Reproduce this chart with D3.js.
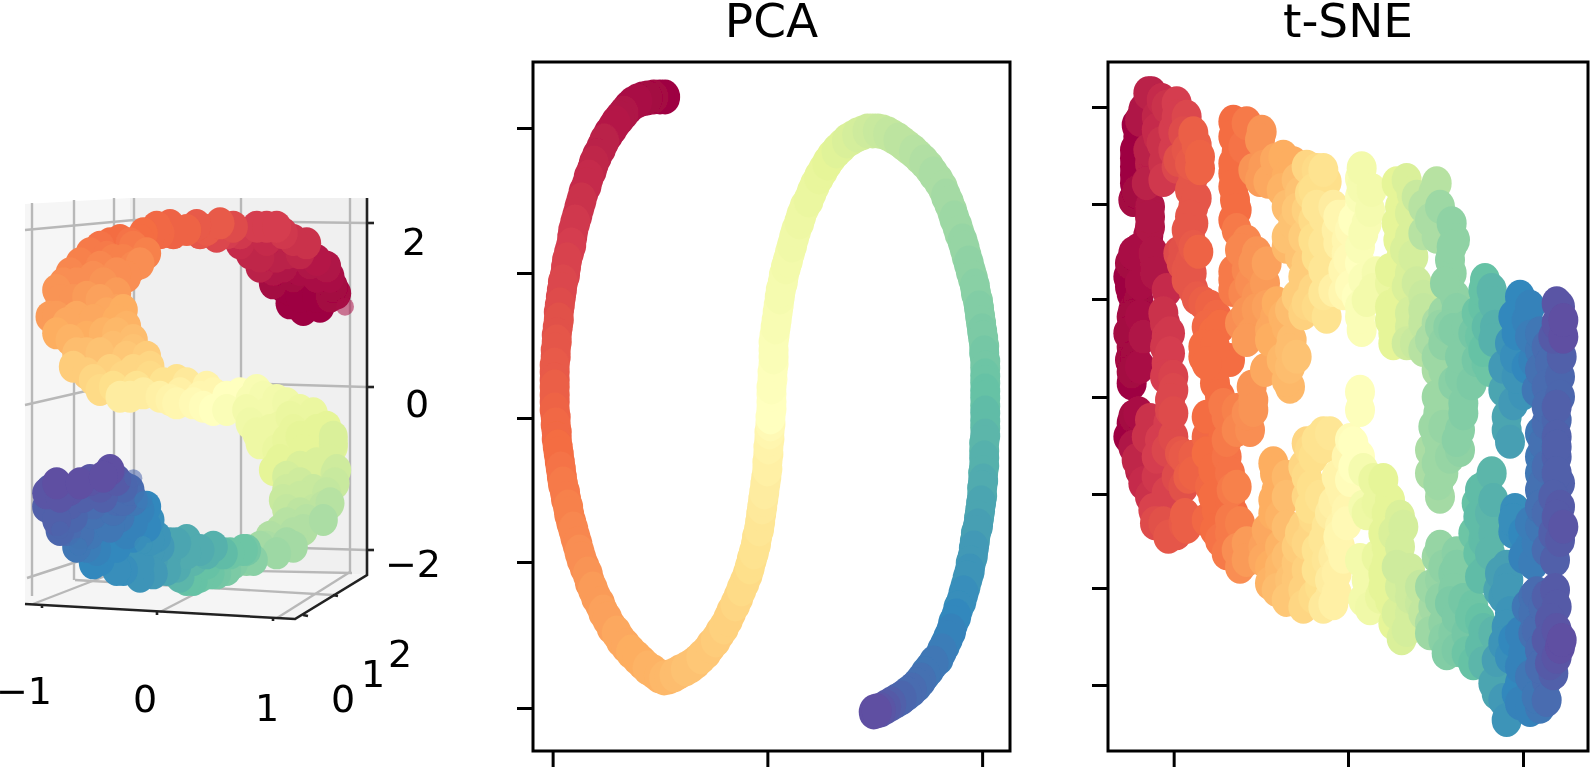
<!DOCTYPE html>
<html>
<head>
<meta charset="utf-8">
<style>
  body { margin: 0; background: #fff; }
  svg { display: block; }
  text { font-family: 'DejaVu Sans', sans-serif; fill: #000; }
</style>
</head>
<body>
<div class="svg-container"></div>
<script src="https://cdn.jsdelivr.net/npm/d3@7"></script>
<script>
/* [x, y, colour position], axes carry no labels so units are free */
var pcaPoints = [
  [-9.9,32.1,0],[-11,32.1,.01],[-12.1,31.9,.01],[-13.1,31.4,.02],[-13.9,30.5,.03],[-14.7,29.5,.04],[-15.4,28.4,.04],[-16.1,27,.05],
  [-16.8,25.5,.06],[-17.3,24.1,.07],[-17.8,22.6,.07],[-18.2,21.1,.08],[-18.6,19.6,.09],[-18.9,18.1,.09],[-19.2,16.6,.1],[-19.5,15.1,.11],
  [-19.8,13.6,.12],[-20,12.1,.12],[-20.2,10.6,.13],[-20.3,9.1,.14],[-20.4,7.6,.15],[-20.5,6.1,.15],[-20.6,4.6,.16],[-20.6,3.1,.17],
  [-20.6,1.6,.17],[-20.5,.1,.18],[-20.4,-1.4,.19],[-20.3,-2.9,.2],[-20.1,-4.4,.2],[-19.9,-5.9,.21],[-19.6,-7.4,.22],[-19.3,-8.9,.23],
  [-19,-10.4,.23],[-18.6,-11.9,.24],[-18.2,-13.4,.25],[-17.7,-14.9,.25],[-17.2,-16.4,.26],[-16.6,-17.9,.27],[-15.9,-19.4,.28],[-15.1,-20.9,.28],
  [-14.2,-22.2,.29],[-13.2,-23.4,.3],[-12.1,-24.5,.3],[-11,-25.4,.31],[-10,-26,.32],
  [-9,-25.7,.33],[-7.9,-25.1,.34],[-6.9,-24.4,.34],[-5.9,-23.4,.35],[-5,-22.2,.36],[-4.2,-20.9,.37],[-3.5,-19.4,.37],[-2.8,-17.9,.38],
  [-2.2,-16.4,.39],[-1.7,-14.9,.4],[-1.3,-13.4,.41],[-1,-11.9,.41],[-.7,-10.4,.42],[-.5,-8.9,.43],[-.3,-7.4,.44],[-.1,-5.9,.44],
  [0,-4.4,.45],[.1,-2.9,.46],[.2,-1.4,.47],[.3,.1,.5],[.4,1.6,.5],[.4,3.1,.51],[.5,4.6,.51],[.6,6.1,.52],[.6,7.6,.52],[.8,9.1,.53],
  [1,10.6,.53],[1.2,12.1,.54],[1.5,13.6,.54],[1.8,15.1,.55],[2.2,16.6,.55],[2.6,18.1,.56],[3.1,19.6,.57],[3.6,21.1,.57],[4.3,22.6,.58],
  [5,24.1,.59],[5.8,25.5,.6],[6.7,26.7,.61],[7.7,27.7,.62],[8.7,28.3,.63],[9.7,28.7,.64],[10.7,28.7,.65],[11.7,28.4,.66],[12.7,27.8,.67],
  [13.7,27,.67],[14.7,26.1,.68],[15.7,25,.69],[16.6,23.7,.7],[17.3,22.2,.71],[17.9,20.7,.71],[18.4,19.2,.72],[18.9,17.7,.73],[19.3,16.2,.73],
  [19.7,14.7,.74],[20.1,13.2,.75],[20.4,11.7,.75],[20.6,10.2,.76],[20.8,8.7,.77],[21,7.2,.77],[21.1,5.7,.78],[21.1,4.2,.79],[21.1,2.7,.8],
  [21.1,1.2,.8],[21.1,-.3,.81],[21.1,-1.8,.82],[21,-3.3,.82],[21,-4.8,.83],[20.9,-6.3,.84],[20.8,-7.8,.84],[20.6,-9.3,.85],[20.4,-10.8,.86],
  [20.1,-12.3,.86],[19.9,-13.8,.87],[19.6,-15.3,.88],[19.2,-16.8,.88],[18.8,-18.3,.89],[18.3,-19.8,.9],[17.8,-21.3,.91],[17.2,-22.7,.91],
  [16.6,-24,.92],[15.7,-25.1,.93],[14.9,-26.2,.94],[14,-27.2,.95],[13,-28,.96],[12,-28.6,.97],[11,-29.2,.99],[10.3,-29.4,1]
]
var pcaBetween = [
  [-10.4,32.1,0],[-11.6,32,.01],[-12.6,31.7,.02],[-13.5,31,.02],[-14.3,30,.03],[-15,29,.04],[-15.8,27.7,.05],[-16.5,26.2,.05],[-17,24.8,.06],
  [-17.5,23.3,.07],[-18,21.8,.08],[-18.4,20.3,.08],[-18.8,18.8,.09],[-19,17.3,.1],[-19.4,15.8,.11],[-19.6,14.3,.11],[-19.9,12.8,.12],[-20.1,11.3,.13],
  [-20.2,9.8,.14],[-20.4,8.3,.14],[-20.5,6.8,.15],[-20.6,5.3,.16],[-20.6,3.8,.16],[-20.6,2.3,.17],[-20.6,.8,.18],[-20.5,-.7,.19],[-20.4,-2.1,.19],
  [-20.2,-3.6,.2],[-20,-5.1,.21],[-19.8,-6.6,.22],[-19.5,-8.1,.22],[-19.2,-9.6,.23],[-18.8,-11.1,.24],[-18.4,-12.6,.24],[-18,-14.1,.25],[-17.4,-15.6,.26],
  [-16.9,-17.1,.27],[-16.2,-18.6,.27],[-15.5,-20.1,.28],[-14.6,-21.5,.29],[-13.7,-22.8,.29],[-12.6,-24,.3],[-11.6,-25,.31],[-10.5,-25.8,.31],[-9.5,-25.9,.32],
  [-8.5,-25.4,.33],[-7.4,-24.8,.34],[-6.4,-23.9,.35],[-5.5,-22.8,.35],[-4.6,-21.5,.36],[-3.8,-20.1,.37],[-3.1,-18.6,.38],[-2.5,-17.1,.39],[-1.9,-15.6,.39],
  [-1.5,-14.1,.4],[-1.1,-12.6,.41],[-.8,-11.1,.42],[-.6,-9.6,.42],[-.4,-8.1,.43],[-.2,-6.6,.44],[0,-5.1,.45],[.1,-3.6,.45],[.2,-2.1,.46],[.3,-.6,.48],
  [.4,.9,.5],[.4,2.4,.5],[.5,3.9,.5],[.6,5.4,.51],[.6,6.8,.52],[.7,8.3,.52],[.9,9.8,.53],[1.1,11.3,.53],[1.3,12.8,.54],[1.6,14.3,.54],[2,15.8,.55],
  [2.4,17.3,.56],[2.8,18.8,.56],[3.3,20.3,.57],[4,21.8,.58],[4.6,23.3,.58],[5.4,24.8,.59],[6.2,26.1,.6],[7.2,27.2,.61],[8.2,28,.62],[9.2,28.5,.63],
  [10.2,28.7,.64],[11.2,28.6,.65],[12.2,28.1,.66],[13.2,27.4,.67],[14.2,26.6,.68],[15.2,25.6,.69],[16.1,24.4,.7],[17,23,.7],[17.6,21.5,.71],[18.1,20,.72],
  [18.6,18.5,.72],[19.1,17,.73],[19.5,15.5,.74],[19.9,14,.74],[20.2,12.5,.75],[20.5,11,.76],[20.7,9.5,.76],[20.9,8,.77],[21,6.5,.78],[21.1,5,.78],
  [21.1,3.5,.79],[21.1,2,.8],[21.1,.5,.81],[21.1,-1,.81],[21,-2.5,.82],[21,-4,.83],[20.9,-5.5,.83],[20.8,-7,.84],[20.7,-8.5,.85],[20.5,-10,.85],
  [20.2,-11.5,.86],[20,-13,.87],[19.7,-14.5,.87],[19.4,-16,.88],[19,-17.5,.89],[18.5,-19,.89],[18,-20.5,.9],[17.5,-22,.91],[16.9,-23.3,.92],[16.1,-24.5,.93],
  [15.3,-25.6,.93],[14.5,-26.7,.94],[13.5,-27.6,.95],[12.5,-28.3,.96],[11.5,-28.9,.98],[10.6,-29.3,1]
]
var pcaTicksX = [-20.8, 0, 20.8]
var pcaTicksY = [29, 14.5, 0, -14.4, -29]

var tsnePoints = [
  [-589,911,.05],[-559,891,.07],[-614,861,.03],[-624,831,.03],[-629,781,0],[-639,741,0],[-639,691,0],[-639,641,0],[-644,591,.01],
  [-594,571,.03],[-594,511,.03],[-599,461,.02],[-604,401,.02],[-579,401,.03],[-654,401,.01],[-659,361,0],[-624,341,.02],[-649,311,0],
  [-644,261,.01],[-644,211,.01],[-649,151,.01],[-654,111,.01],[-649,41,0],[-544,321,.07],
  [-514,881,.1],[-484,841,.12],[-569,781,.07],[-464,791,.17],[-454,756,.17],[-524,741,.1],[-594,701,.05],[-444,686,.18],[-554,651,.09],
  [-474,621,.15],[-464,571,.15],[-464,521,.15],[-474,481,.15],[-449,436,.18],[-509,431,.13],[-484,381,.15],[-464,321,.15],[-394,241,.19],
  [-404,191,.2],[-434,121,.2],[-549,221,.08],[-544,181,.09],[-544,101,.1],[-524,21,.12],[-434,281,.17],
  [-344,826,.2],[-259,796,.26],[-334,736,.2],[-344,671,.2],[-264,651,.27],[-339,591,.2],[-344,531,.2],[-304,466,.24],[-274,431,.26],
  [-264,381,.26],[-344,376,.22],[-344,321,.22],[-294,341,.25],[-244,271,.28],[-289,191,.27],[-234,201,.29],[-354,111,.2],[-249,81,.29],
  [-399,41,.2],[-289,31,.26],[-384,1,.2],[-284,-9,.26],[-194,721,.3],[-184,661,.3],[-239,646,.29],
  [-154,561,.35],[-184,481,.34],[-144,421,.34],[-169,171,.33],[-174,91,.33],[-174,31,.32],[-124,401,.36],[-94,681,.39],[-64,646,.4],
  [-134,251,.37],[-64,241,.41],[-104,321,.38],[-154,301,.36],[-74,541,.42],[-74,461,.42],[-74,381,.42],[-114,611,.39],[-194,241,.31],
  [41,686,.55],[41,631,.54],[36,571,.5],[-29,541,.47],[46,491,.53],[-4,471,.47],[1,411,.48],[6,331,.49],[36,271,.52],[41,201,.52],
  [86,371,.54],[36,16,.51],[-44,321,.45],
  [176,651,.62],[176,601,.6],[256,611,.68],[226,571,.68],[171,521,.6],[246,531,.7],[171,441,.62],[266,481,.7],[136,161,.6],[126,381,.6],
  [186,371,.62],[186,251,.63],[226,301,.65],[201,161,.65],[266,81,.7],[226,221,.66],[126,271,.6],
  [311,521,.74],[321,471,.74],[306,411,.74],[311,371,.74],[321,301,.74],[316,201,.76],[276,211,.73],[266,121,.72],[356,161,.75],[336,61,.76],
  [266,1,.72],[346,-19,.76],
  [411,351,.8],[431,321,.82],[406,271,.8],[441,211,.83],[406,141,.8],[416,101,.79],
  [526,281,.9],[536,231,.91],[486,161,.88],[501,121,.89],[576,141,.93],[466,21,.85],[526,11,.88],[496,-19,.87],
  [636,271,.99],[646,181,1],[641,121,.97],[636,61,.96],[636,1,.96],[576,81,.94],
  [-644,-59,.01],[-659,-119,0],[-624,-219,.05],[-594,-199,.06],[-564,-129,.1],[-534,-39,.12],[-539,-79,.1],[-594,-299,.08],[-559,-329,.1],
  [-554,-379,.14],[-514,-409,.15],[-489,-354,.17],[-494,-179,.16],[-479,-239,.17],[-514,-239,.13],
  [-399,-49,.2],[-374,-24,.22],[-409,-139,.19],[-389,-189,.2],[-374,-239,.2],[-349,-279,.22],[-394,-339,.2],[-344,-349,.2],[-399,-399,.2],
  [-354,-409,.22],[-334,-459,.25],[-324,-509,.25],[-364,-469,.22],[-364,-129,.22],[-294,-99,.25],[-304,-49,.25],
  [271,-49,.72],[346,-49,.76],[266,-119,.72],[336,-159,.74],[266,-199,.72],[271,-259,.72],[276,-299,.71],[36,-39,.51],
  [-224,-199,.3],[-214,-279,.3],[-224,-349,.3],[-234,-419,.29],[-234,-509,.3],[-214,-579,.33],[-154,-549,.35],[-174,-589,.34],[-154,-449,.36],[-184,-479,.33],
  [-74,-109,.41],[-124,-139,.38],[-104,-179,.4],[-109,-269,.4],[-114,-329,.4],[-94,-459,.41],[-124,-519,.37],[-134,-629,.38],[-104,-399,.38],
  [-29,-419,.47],[-4,-339,.47],[-24,-269,.46],[-44,-619,.45],[-54,-549,.44],[-44,-479,.44],[-14,-479,.47],[36,-179,.5],[16,-139,.5],[16,-209,.5],
  [46,-219,.54],[56,-349,.57],[106,-249,.6],[126,-309,.6],[166,-389,.63],[156,-449,.63],[56,-509,.55],[66,-579,.55],[66,-634,.56],[106,-569,.6],
  [146,-649,.62],[161,-724,.62],[186,-519,.64],[186,-599,.64],[216,-619,.65],
  [276,-449,.73],[326,-469,.75],[316,-529,.76],[246,-569,.72],[306,-619,.77],[376,-629,.79],[246,-679,.7],[286,-729,.75],[296,-769,.76],
  [356,-709,.78],[356,-769,.79],[406,-699,.81],[406,-799,.82],
  [431,-229,.82],[396,-279,.81],[426,-349,.82],[391,-359,.81],[406,-429,.81],[391,-469,.8],[411,-524,.81],
  [476,-59,.85],[486,-134,.86],[501,-339,.89],[496,-404,.89],[476,-509,.86],[481,-549,.87],[466,-599,.87],[486,-619,.87],[496,-729,.9],
  [516,-809,.91],[516,-859,.9],[476,-969,.88],[446,-889,.85],[466,-909,.87],
  [626,-29,.97],[596,-79,.95],[626,-119,.97],[586,-139,.94],[626,-179,.97],[596,-209,.95],[636,-259,.97],[576,-279,.94],[636,-329,.98],
  [596,-349,.95],[646,-389,.99],[636,-429,.98],[621,-489,.97],[556,-499,.92],[566,-439,.92],[546,-379,.92],
  [566,-589,.95],[621,-579,.98],[556,-649,.94],[626,-629,.98],[566,-699,.95],[626,-699,.99],[636,-749,1],[606,-799,.98],[596,-849,.95],[576,-929,.93]
]
var tsneUpper = [
  [-634,816,0],[-639,716,0],[-639,666,0],[-634,616,.01],[-594,541,.03],[-599,486,.02],[-629,441,.02],[-644,431,.02],[-609,431,.02],[-584,431,.03],
  [-579,371,.03],[-654,331,0],[-604,371,.02],[-629,291,.01],[-649,241,.01],[-624,241,.02],[-644,181,.01],[-614,181,.03],[-659,191,.01],[-639,121,.01],
  [-624,91,.02],[-649,76,.01],[-574,841,.06],[-599,911,.05],[-544,871,.08],[-574,801,.07],[-599,741,.05],[-559,761,.08],[-524,801,.1],[-554,701,.08],
  [-514,691,.12],[-604,641,.05],[-514,841,.1],[-494,791,.13],[-484,741,.15],[-509,711,.14],[-474,701,.16],[-444,721,.18],[-464,661,.15],[-454,596,.15],
  [-474,541,.15],[-484,501,.15],[-464,451,.16],[-494,441,.14],[-474,406,.15],[-499,401,.14],[-484,351,.15],[-469,371,.15],[-454,296,.16],[-414,271,.18],
  [-424,211,.19],[-384,211,.2],[-434,151,.2],[-399,151,.2],[-424,101,.2],[-554,251,.08],[-534,191,.09],[-549,151,.09],[-534,131,.1],[-549,61,.1],
  [-524,61,.11],[-534,-9,.12],[-344,781,.2],[-304,821,.22],[-264,771,.26],[-344,701,.2],[-314,751,.21],[-284,681,.26],[-254,691,.27],[-344,631,.2],
  [-334,561,.2],[-334,501,.22],[-324,441,.24],[-284,401,.26],[-244,401,.28],[-249,341,.27],[-344,351,.22],[-304,381,.24],[-314,311,.24],[-274,301,.26],
  [-304,251,.26],[-254,231,.27],[-219,241,.29],[-324,221,.25],[-274,261,.27],[-214,281,.3],[-234,171,.3],[-304,171,.27],[-184,211,.31],[-219,711,.29],
  [-164,701,.3],[-154,651,.33],[-199,621,.31],[-144,611,.34],[-184,571,.33],[-124,561,.37],[-164,521,.34],[-184,451,.32],[-134,481,.36],[-104,531,.39],
  [-104,471,.4],[-134,361,.36],[-94,421,.4],[-74,311,.42],[-124,281,.38],[-174,261,.33],[-94,271,.39],[-124,691,.38],[-74,681,.41],[-104,621,.4],
  [-94,571,.42],[-44,571,.44],[-14,541,.47],[-174,141,.33],[-154,121,.34],[-184,51,.32],[-199,111,.32],[36,656,.53],[71,621,.55],[36,601,.52],
  [66,561,.54],[16,531,.5],[56,521,.53],[6,501,.48],[-34,501,.45],[36,451,.52],[-29,461,.45],[-4,431,.47],[-14,381,.47],[36,401,.5],[46,351,.52],
  [-14,311,.47],[26,301,.5],[76,321,.55],[56,291,.55],[36,241,.52],[146,641,.6],[191,611,.62],[156,571,.6],[206,601,.65],[146,521,.6],[186,551,.62],
  [151,471,.6],[186,481,.62],[161,421,.6],[196,421,.63],[126,341,.58],[176,331,.62],[206,341,.64],[156,291,.6],[126,231,.6],[186,211,.63],[136,191,.6],
  [176,161,.64],[226,261,.66],[246,171,.7],[226,141,.68],[266,221,.7],[286,251,.72],[266,641,.68],[276,571,.72],[311,451,.74],[226,491,.68],[291,341,.74],
  [326,261,.75],[301,211,.75],[286,161,.74],[356,211,.76],[336,121,.76],[376,191,.78],[386,111,.78],[286,81,.72],[316,41,.75],[286,1,.72],[371,41,.77],
  [406,321,.8],[436,281,.82],[386,251,.79],[416,211,.81],[396,181,.79],[436,171,.83],[426,81,.79],[516,301,.9],[546,271,.91],[496,241,.9],[506,191,.9],
  [546,181,.92],[466,91,.87],[506,61,.88],[556,111,.91],[536,91,.9],[576,191,.93],[596,151,.95],[606,101,.95],[596,31,.95],[566,21,.93],[626,221,.99],
  [646,231,1],[616,181,.98],[626,281,.99]
]
var tsneLower = [
  [-649,-79,0],[-629,-49,.02],[-594,-69,.08],[-604,-119,.08],[-644,-149,.03],[-634,-189,.06],[-614,-259,.07],[-574,-179,.1],[-544,-159,.12],[-524,-119,.13],
  [-574,-239,.09],[-544,-289,.11],[-584,-339,.11],[-579,-379,.13],[-539,-419,.15],[-494,-379,.16],[-484,-389,.17],[-504,-169,.15],[-464,-179,.17],[-464,-229,.18],
  [-494,-269,.14],[-524,-49,.13],[-424,-59,.2],[-364,-59,.22],[-424,-119,.19],[-374,-119,.2],[-424,-169,.2],[-364,-179,.21],[-354,-229,.21],[-404,-219,.2],
  [-414,-269,.19],[-334,-269,.23],[-404,-299,.2],[-354,-309,.2],[-424,-369,.19],[-354,-369,.22],[-324,-379,.23],[-384,-429,.21],[-304,-439,.27],[-304,-489,.27],
  [-334,-39,.23],[-284,-39,.26],[-334,-99,.24],[-219,-229,.3],[-184,-239,.32],[-224,-309,.3],[-184,-299,.33],[-204,-359,.31],[-244,-399,.29],[-184,-389,.33],
  [-254,-449,.28],[-204,-449,.31],[-254,-489,.29],[-204,-509,.32],[-204,-539,.32],[-174,-549,.34],[-154,-499,.35],[-234,-559,.31],[-184,-609,.35],[-144,-409,.37],
  [-124,-239,.39],[-94,-129,.41],[-74,-149,.41],[-134,-209,.38],[-114,-159,.39],[-54,-109,.42],[-124,-299,.38],[-84,-299,.41],[-104,-359,.39],[-64,-389,.42],
  [-134,-389,.37],[-74,-429,.42],[-124,-439,.38],[-64,-489,.42],[-94,-519,.41],[-84,-569,.4],[-104,-599,.39],[-54,-599,.43],[-134,-579,.37],[-34,-589,.45],[-74,-629,.43],
  [6,-129,.49],[-4,-179,.47],[6,-249,.49],[-34,-239,.46],[-44,-319,.45],[-14,-299,.46],[-24,-389,.46],[-4,-379,.48],[-54,-349,.44],[-24,-449,.46],[-34,-529,.45],
  [76,-249,.58],[96,-279,.58],[46,-329,.54],[86,-319,.58],[116,-349,.6],[156,-359,.62],[136,-409,.62],[106,-409,.6],[116,-449,.6],[36,-489,.55],[86,-479,.58],
  [116,-499,.6],[56,-549,.55],[106,-529,.6],[46,-609,.55],[96,-599,.58],[146,-509,.64],[156,-569,.63],[126,-609,.6],[186,-559,.64],[216,-569,.66],[136,-679,.6],
  [186,-649,.63],[176,-699,.63],[226,-649,.66],[256,-89,.72],[286,-89,.73],[336,-99,.75],[246,-159,.7],[306,-179,.73],[276,-159,.72],[246,-229,.7],[286,-229,.72],
  [326,-129,.75],[266,-479,.72],[326,-509,.76],[286,-509,.74],[276,-549,.73],[316,-579,.76],[276,-609,.74],[256,-629,.71],[346,-609,.78],[396,-669,.8],[326,-659,.77],
  [286,-679,.74],[246,-709,.72],[316,-709,.76],[326,-759,.77],[396,-749,.81],[436,-709,.82],[366,-659,.79],[376,-799,.8],[411,-269,.81],[386,-319,.8],[436,-309,.83],
  [406,-389,.81],[436,-409,.82],[376,-409,.79],[426,-469,.82],[396,-539,.81],[476,-99,.85],[496,-369,.89],[526,-409,.9],[546,-449,.91],[526,-479,.91],[456,-529,.86],
  [451,-579,.85],[476,-579,.87],[486,-649,.88],[476,-689,.88],[516,-709,.91],[466,-739,.88],[486,-779,.89],[446,-789,.86],[456,-849,.85],[506,-889,.9],[516,-919,.91],
  [436,-859,.85],[546,-839,.93],[556,-709,.94],[536,-629,.93],[556,-599,.94],[526,-769,.91],[576,-759,.95],[576,-809,.95],[566,-899,.93],[546,-939,.91],[596,-909,.95],
  [596,-29,.95],[626,-69,.96],[576,-109,.93],[626,-149,.97],[576,-179,.93],[626,-229,.97],[576,-229,.93],[586,-259,.94],[616,-299,.97],[576,-329,.94],[626,-359,.98],
  [576,-389,.93],[616,-409,.97],[596,-459,.95],[596,-599,.97],[586,-629,.95],[606,-669,.98],[596,-729,.98],[641,-729,1],[626,-779,.99],[616,-829,.97]
]
var tsneTicksX = [-523, 0, 525]
var tsneTicksY = [870, 579, 294, 0, -291, -573, -864]

/* 3d panel, projected to the view plane */
var sPoints = [
  [310,270,0],[270,290,0],[360,280,0],[410,320,.01],[250,340,0],[330,340,0],[390,370,.02],[220,390,.03],[300,390,.02],[350,420,.04],
  [180,430,.06],[260,440,.05],[320,470,.08],[120,470,.07],[200,480,.07],[170,520,.1],[250,500,.09],[80,500,.1],[100,520,.13],
  [20,510,.16],[60,530,.16],[-40,510,.18],[-120,500,.19],[-170,500,.2],[-90,525,.18],[-240,480,.2],[-300,460,.21],[-200,460,.22],
  [-360,410,.23],[-260,420,.23],[-180,410,.25],[-410,350,.25],[-320,370,.25],[-220,370,.25],[-430,330,.26],[-340,310,.27],[-250,320,.27],
  [-450,250,.27],[-370,250,.29],[-280,260,.29],[-230,270,.3],[-430,200,.3],[-340,190,.3],[-250,200,.32],[-200,180,.33],
  [-380,100,.36],[-300,140,.34],[-220,130,.35],[-160,130,.36],[-300,30,.39],[-230,70,.38],[-150,70,.39],[-70,60,.41],
  [-240,10,.44],[-170,20,.44],[-90,0,.46],[-40,50,.43],[20,40,.46],[-20,-10,.48],[40,-30,.5],[80,10,.5],[170,30,.53],[140,-30,.55],
  [230,0,.55],[260,-10,.56],[300,-30,.57],[170,-100,.57],[240,-80,.57],[300,-110,.6],[380,-80,.6],[400,-130,.62],
  [180,-130,.57],[270,-140,.58],[360,-150,.6],[400,-140,.61],[220,-210,.6],[300,-200,.62],[405,-220,.64],[260,-270,.64],[340,-270,.65],
  [405,-250,.65],[260,-330,.66],[340,-330,.66],[390,-310,.68],[230,-410,.68],[310,-390,.69],[370,-360,.7],[200,-440,.7],[260,-430,.71],
  [80,-510,.77],[-20,-540,.8],[30,-520,.79],[120,-460,.76],[160,-480,.75],[130,-450,.79],[-60,-530,.82],[20,-460,.83],[70,-460,.81],
  [-40,-420,.84],[-90,-430,.85],[-100,-470,.85],[-140,-480,.86],[-180,-530,.88],[-230,-510,.89],[-300,-480,.9],[-260,-470,.89],
  [-190,-440,.88],[-130,-410,.88],[-340,-440,.92],[-280,-420,.9],[-220,-400,.91],[-160,-380,.9],[-360,-400,.94],[-420,-390,.96],
  [-300,-360,.93],[-240,-350,.93],[-180,-330,.91],[-460,-320,.97],[-390,-310,.97],[-320,-310,.95],[-250,-300,.95],[-450,-270,.98],
  [-390,-270,.99],[-330,-240,.99],[-270,-210,1],[-430,-250,1],[-300,-260,.98],[-230,-260,.96],[-160,-320,.9]
]
var sMore = [
  [270,330,0],[300,310,0],[350,310,0],[390,310,.01],[220,350,.01],[280,370,.01],[350,370,.02],[400,340,.01],[180,400,.05],[250,400,.03],[330,410,.03],[380,400,.03],
  [150,440,.06],[230,430,.05],[300,440,.06],[120,500,.09],[200,520,.1],[230,520,.1],[280,480,.08],[50,490,.12],[0,500,.15],[-10,525,.16],[-80,500,.18],[-150,490,.19],
  [-130,520,.19],[-180,480,.2],[-210,470,.21],[-270,470,.2],[-330,440,.22],[-280,430,.22],[-230,420,.23],[-160,440,.23],[-390,380,.24],[-300,400,.24],[-250,380,.25],
  [-200,400,.24],[-370,350,.25],[-290,350,.26],[-420,300,.26],[-380,300,.26],[-300,300,.28],[-250,270,.28],[-430,250,.27],[-400,230,.29],[-320,240,.29],[-250,240,.3],
  [-390,180,.31],[-290,200,.31],[-220,220,.31],[-200,150,.34],[-370,140,.33],[-340,140,.33],[-260,160,.33],[-340,80,.36],[-270,90,.37],[-200,90,.38],[-150,100,.38],
  [-320,60,.38],[-260,40,.4],[-190,40,.41],[-110,50,.41],[-210,10,.44],[-120,10,.45],[-60,20,.45],[0,10,.47],[-70,-10,.47],[40,20,.47],[120,20,.5],[10,-20,.49],
  [80,-30,.52],[190,10,.54],[150,0,.53],[200,-40,.55],[150,-70,.56],[270,-50,.58],[340,-40,.58],[210,-90,.57],[280,-90,.59],[350,-90,.6],[400,-110,.62],[260,-120,.59],
  [230,-150,.58],[310,-150,.6],[390,-180,.62],[240,-180,.6],[350,-190,.62],[260,-230,.63],[410,-210,.64],[300,-250,.64],[250,-300,.65],[300,-290,.65],[380,-280,.66],
  [300,-340,.67],[370,-320,.67],[260,-370,.68],[320,-360,.68],[240,-390,.68],[280,-400,.69],[210,-410,.69],[180,-440,.71],[230,-460,.72],[280,-440,.71],[140,-480,.74],
  [100,-490,.76],[50,-520,.78],[0,-530,.79],[-40,-540,.8],[20,-490,.8],[90,-460,.79],[140,-450,.78],[-20,-480,.82],[-70,-500,.84],[0,-450,.84],[-40,-460,.84],[40,-440,.83],
  [-70,-430,.85],[-120,-440,.87],[-150,-450,.87],[-140,-520,.87],[-100,-510,.85],[-210,-480,.88],[-180,-490,.88],[-250,-510,.89],[-320,-490,.9],[-310,-450,.91],[-250,-440,.9],
  [-200,-410,.9],[-150,-420,.88],[-370,-440,.93],[-400,-390,.95],[-330,-400,.93],[-270,-380,.93],[-200,-370,.91],[-430,-360,.97],[-380,-350,.96],[-320,-340,.94],[-260,-330,.94],
  [-200,-300,.93],[-150,-360,.89],[-460,-280,.99],[-420,-290,.99],[-350,-290,.97],[-290,-290,.97],[-230,-300,.95],[-360,-250,1],[-290,-230,1],[-250,-240,.98],[-210,-270,.95]
]
var sFaded = [[435,280,.02],[-200,-235,.96],[-170,-435,.88],[-420,-390,.96],[-365,-440,.93],[-170,-300,.92]]

var paneBack = [[-210,606],[501,606],[501,-525],[-210,-495]]
var paneLeft = [[-525,588],[-210,606],[-210,-495],[-525,-612]]
var paneFloor = [[-525,-612],[285,-657],[501,-525],[-210,-495]]
var gridLines = [
  [[-504,591],[-504,-588]],[[-378,600],[-378,-540]],[[-258,606],[-258,-504]],[[-198,606],[-198,-495]],
  [[123,606],[123,-510]],[[450,606],[450,-516]],
  [[-525,510],[-198,540],[501,531]],[[-525,-15],[-198,60],[501,39]],[[-519,-534],[-198,-429],[501,-450]],
  [[-501,-612],[-198,-495]],[[-120,-636],[123,-510]],[[231,-654],[450,-516]],
  [[-375,-540],[399,-585]],[[-258,-504],[456,-519]]
]
var axisLines = [
  [[-525,-612],[285,-657],[501,-525],[501,606]]
]
var axisTicks = [
  [[501,531],[522,531]],[[501,39],[522,39]],[[501,-450],[522,-450]],
  [[-474,-615],[-474,-624]],[[-129,-636],[-129,-645]],[[219,-654],[219,-663]],
  [[309,-645],[324,-648]],[[399,-585],[414,-588]]
]
var sLabels = [
  {t: '2', u: 642, v: 435}, {t: '0', u: 651, v: -51}, {t: '\u22122', u: 639, v: -531},
  {t: '\u22121', u: -528, v: -912}, {t: '0', u: -165, v: -936}, {t: '1', u: 201, v: -963},
  {t: '0', u: 429, v: -936}, {t: '1', u: 519, v: -861}, {t: '2', u: 600, v: -801}
]

var spectral = d3.scaleLinear()
  .domain(d3.range(11).map(function (d) { return d / 10 }))
  .range(d3.schemeSpectral[11])

var svg = d3.select('.svg-container').append('svg')
  .attr('width', 1594)
  .attr('height', 769)

svg.append('filter')
  .attr('id', 'soft')
  .attr('filterUnits', 'userSpaceOnUse')
  .attr('x', 0).attr('y', 0).attr('width', 1594).attr('height', 769)
  .append('feGaussianBlur')
  .attr('stdDeviation', 0.75)

var root = svg.append('g').attr('filter', 'url(#soft)')

function byColour(a, b) {
  return a[2] - b[2]
}

/* the picture is stretched a little in y, dots come out slightly tall */
function drawDots(group, points, x, y, rx, ry, opacity) {
  group.selectAll(null)
    .data(points)
    .enter()
    .append('ellipse')
    .attr('cx', function (d) { return x(d[0]) })
    .attr('cy', function (d) { return y(d[1]) })
    .attr('rx', rx)
    .attr('ry', ry)
    .attr('fill', function (d) { return spectral(d[2]) })
    .attr('fill-opacity', opacity)
}

function drawPanel(title, left, right, domainX, domainY, ticksX, ticksY, points, rx, ry) {
  var top = 62
  var bottom = 751
  var x = d3.scaleLinear().domain(domainX).range([left, right])
  var y = d3.scaleLinear().domain(domainY).range([top, bottom])
  var g = root.append('g')

  drawDots(g, points, x, y, rx, ry, 1)

  g.append('rect')
    .attr('x', left)
    .attr('y', top)
    .attr('width', right - left)
    .attr('height', bottom - top)
    .attr('fill', 'none')
    .attr('stroke', '#000')
    .attr('stroke-width', 3)

  var axisX = g.append('g')
    .attr('transform', 'translate(0,' + bottom + ')')
    .call(d3.axisBottom(x).tickValues(ticksX).tickSize(16).tickFormat(''))
  var axisY = g.append('g')
    .attr('transform', 'translate(' + left + ',0)')
    .call(d3.axisLeft(y).tickValues(ticksY).tickSize(16).tickFormat(''))
  axisX.select('.domain').remove()
  axisY.select('.domain').remove()
  g.selectAll('.tick line').attr('stroke', '#000').attr('stroke-width', 3)

  g.append('text')
    .attr('x', (left + right) / 2)
    .attr('y', 37)
    .attr('text-anchor', 'middle')
    .attr('font-size', 47)
    .text(title)
}

drawPanel('PCA', 533, 1010, [-22.7, 23.5], [35.6, -33.3], pcaTicksX, pcaTicksY, pcaPoints.concat(pcaBetween).sort(byColour), 15, 17.5)
drawPanel('t-SNE', 1108, 1588, [-720, 720], [1005, -1062], tsneTicksX, tsneTicksY, tsnePoints.concat(tsneUpper, tsneLower).sort(byColour), 15, 17)

/* 3D PANEL */
var viewX = d3.scaleLinear().domain([-600, 600]).range([0, 400])
var viewY = d3.scaleLinear().domain([600, -600]).range([200, 600])
var viewLine = d3.line()
  .x(function (d) { return viewX(d[0]) })
  .y(function (d) { return viewY(d[1]) })

var view = root.append('g')

view.selectAll(null)
  .data([{p: paneLeft, c: '#f6f6f6'}, {p: paneBack, c: '#f0f0f0'}, {p: paneFloor, c: '#f5f5f5'}])
  .enter()
  .append('path')
  .attr('d', function (d) { return viewLine(d.p) + 'Z' })
  .attr('fill', function (d) { return d.c })

view.selectAll(null)
  .data(gridLines)
  .enter()
  .append('path')
  .attr('d', viewLine)
  .attr('fill', 'none')
  .attr('stroke', '#b8b8b8')
  .attr('stroke-width', 2.4)

view.selectAll(null)
  .data(axisLines.concat(axisTicks))
  .enter()
  .append('path')
  .attr('d', viewLine)
  .attr('fill', 'none')
  .attr('stroke', '#222')
  .attr('stroke-width', 2.6)

drawDots(view, sPoints.concat(sMore).sort(byColour), viewX, viewY, 14.5, 16, 1)
drawDots(view, sFaded, viewX, viewY, 9, 9, 0.55)

view.selectAll(null)
  .data(sLabels)
  .enter()
  .append('text')
  .attr('x', function (d) { return viewX(d.u) })
  .attr('y', function (d) { return viewY(d.v) })
  .attr('text-anchor', 'middle')
  .attr('font-size', 38)
  .text(function (d) { return d.t })
</script>
</body>
</html>
